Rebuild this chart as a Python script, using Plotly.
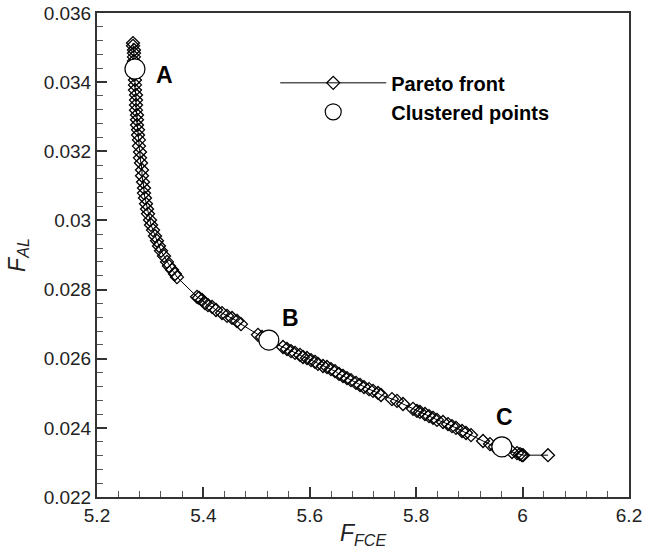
import plotly.graph_objects as go

# Pareto front (F_FCE, F_AL)
pareto_x = [5.2677, 5.2677, 5.2695, 5.2695, 5.2695, 5.2695, 5.2695,
            5.2695, 5.2714, 5.2714, 5.2714, 5.2733, 5.2733, 5.2733, 5.2733,
            5.2752, 5.2752, 5.2752, 5.2771, 5.2771, 5.2789, 5.2789, 5.2808,
            5.2808, 5.2827, 5.2846, 5.2846, 5.2865, 5.2883, 5.2883, 5.2902,
            5.2921, 5.2940, 5.2959, 5.2996, 5.3015, 5.3053, 5.3090, 5.3128,
            5.3165, 5.3203, 5.3259, 5.3316, 5.3353, 5.3410, 5.3466, 5.3504,
            5.3880, 5.3917, 5.3974, 5.4030, 5.4086, 5.4162, 5.4237, 5.4350,
            5.4444, 5.4538, 5.4632, 5.4707, 5.5026, 5.5102, 5.5289,
            5.5496, 5.5571, 5.5647, 5.5722, 5.5816, 5.5872, 5.5947, 5.6023,
            5.6098, 5.6154, 5.6248, 5.6323, 5.6398, 5.6474, 5.6549, 5.6624,
            5.6699, 5.6774, 5.6868, 5.6944, 5.7019, 5.7113, 5.7188, 5.7282,
            5.7338, 5.7545, 5.7639, 5.7752, 5.7940, 5.8015, 5.8071, 5.8165,
            5.8241, 5.8316, 5.8391, 5.8504, 5.8598, 5.8673, 5.8748, 5.8861,
            5.8936, 5.9030, 5.9256, 5.9387, 5.9481, 5.9669, 5.9801, 5.9895,
            5.9951, 5.9989, 6.0008, 6.0477]
pareto_y = [0.03513, 0.03505, 0.03493, 0.03484, 0.03473, 0.03461, 0.03450,
            0.03421, 0.03406, 0.03392, 0.03377, 0.03363, 0.03348, 0.03334, 0.03319,
            0.03305, 0.03291, 0.03276, 0.03262, 0.03247, 0.03233, 0.03215, 0.03198,
            0.03181, 0.03166, 0.03146, 0.03129, 0.03111, 0.03094, 0.03079, 0.03065,
            0.03048, 0.03033, 0.03019, 0.03001, 0.02987, 0.02972, 0.02955, 0.02941,
            0.02926, 0.02912, 0.02897, 0.02880, 0.02868, 0.02857, 0.02845, 0.02836,
            0.02779, 0.02776, 0.02770, 0.02761, 0.02755, 0.02750, 0.02741, 0.02732,
            0.02724, 0.02718, 0.02709, 0.02700, 0.02669, 0.02663, 0.02648,
            0.02634, 0.02628, 0.02622, 0.02617, 0.02611, 0.02605, 0.02602, 0.02596,
            0.02591, 0.02585, 0.02579, 0.02576, 0.02570, 0.02564, 0.02556, 0.02550,
            0.02544, 0.02538, 0.02530, 0.02524, 0.02518, 0.02512, 0.02507, 0.02501,
            0.02495, 0.02483, 0.02478, 0.02469, 0.02455, 0.02449, 0.02446, 0.02440,
            0.02434, 0.02429, 0.02423, 0.02417, 0.02411, 0.02405, 0.02400, 0.02391,
            0.02385, 0.02379, 0.02362, 0.02353, 0.02345, 0.02336, 0.02330, 0.02327,
            0.02324, 0.02321, 0.02321, 0.02321]

# Clustered points
cluster_x = [5.2714, 5.5230, 5.9610]
cluster_y = [0.03438, 0.02654, 0.02345]
cluster_labels = ["A", "B", "C"]
label_x = [5.3278, 5.5628, 5.9660]
label_y = [0.03421, 0.02718, 0.02431]

FONT = "Liberation Sans, Arial, sans-serif"
INK = "#222222"

fig = go.Figure()
fig.add_trace(go.Scatter(
    x=pareto_x, y=pareto_y, mode="lines+markers", name="Pareto front",
    line=dict(color="black", width=1),
    marker=dict(symbol="diamond-open", size=10, color="black",
                line=dict(color="black", width=1.3)),
))
fig.add_trace(go.Scatter(
    x=cluster_x, y=cluster_y, mode="markers", name="Clustered points",
    marker=dict(symbol="circle", size=20, color="white",
                line=dict(color="black", width=1.2)),
))

for t, lx, ly in zip(cluster_labels, label_x, label_y):
    fig.add_annotation(x=lx, y=ly, text=f"<b>{t}</b>", showarrow=False,
                       font=dict(family=FONT, size=23, color="black"))

axis_common = dict(
    showline=True, linewidth=2, linecolor="#333333", mirror=True,
    ticks="inside", ticklen=10, tickwidth=2, tickcolor="#333333",
    showgrid=False, zeroline=False, automargin=False,
    tickfont=dict(family=FONT, size=19, color=INK),
)

fig.update_xaxes(
    range=[5.2, 6.2], tick0=5.2, dtick=0.2,
    minor=dict(ticks="inside", ticklen=6, tickwidth=1, tickcolor="#555555",
               dtick=0.04, tick0=5.2, showgrid=False),
    title=dict(text="<i>F<sub>FCE</sub></i>",
               font=dict(family=FONT, size=23, color=INK), standoff=0),
    **axis_common,
)
fig.update_yaxes(
    range=[0.022, 0.036], tick0=0.022, dtick=0.002,
    minor=dict(ticks="inside", ticklen=6, tickwidth=1, tickcolor="#555555",
               dtick=0.0004, tick0=0.022, showgrid=False),
    title=dict(text="<i>F<sub>AL</sub></i>",
               font=dict(family=FONT, size=23, color=INK), standoff=12),
    **axis_common,
)

fig.update_layout(
    width=659, height=557,
    margin=dict(l=97, r=30, t=13, b=60),
    paper_bgcolor="white", plot_bgcolor="white",
    showlegend=True,
    legend=dict(x=0.335, y=0.896, xanchor="left", yanchor="top",
                bgcolor="rgba(0,0,0,0)", borderwidth=0,
                itemwidth=106, tracegroupgap=0,
                font=dict(family=FONT, size=20, color="black", weight="bold")),
)

fig.write_html("out.html")
